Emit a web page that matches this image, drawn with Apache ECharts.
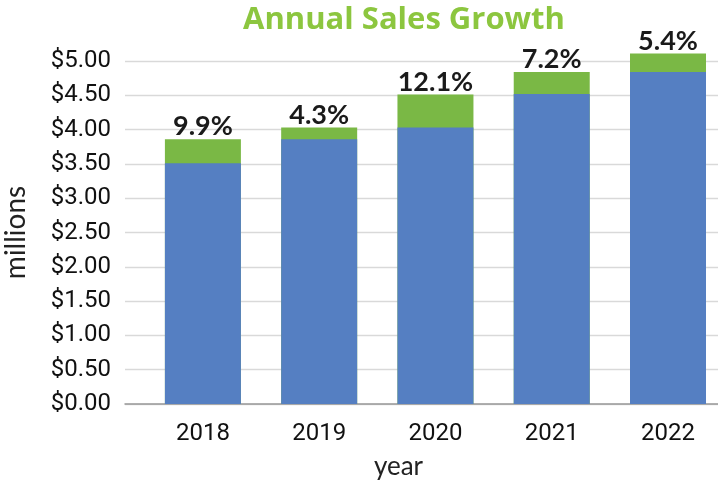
<!DOCTYPE html>
<html>
<head>
<meta charset="utf-8">
<script src="https://cdn.jsdelivr.net/npm/echarts@6/dist/echarts.min.js"></script>
<style>
  html, body { margin: 0; padding: 0; background: #fff; }
  #chart { width: 718px; height: 480px; }
</style>
</head>
<body>
<div id="chart"></div>
<script>
// chart data
const years = [2018, 2019, 2020, 2021, 2022]
const baseSales = [3.51, 3.86, 4.03, 4.52, 4.84]   // prior year sales (millions)
const growthAmount = [0.35, 0.17, 0.48, 0.32, 0.27] // added this year
const growthLabels = ['9.9%', '4.3%', '12.1%', '7.2%', '5.4%']
const yTicks = [0, 0.5, 1, 1.5, 2, 2.5, 3, 3.5, 4, 4.5, 5]

const chart = echarts.init(document.getElementById('chart'))

// green bar = base + growth, drawn behind the blue base bar
const totals = baseSales.map((b, i) => b + growthAmount[i])

chart.setOption({
  animation: false,
  title: {
    text: 'Annual Sales Growth',
    left: 399,
    top: 0,
    textAlign: 'center',
    textStyle: { color: '#8cc63f', fontFamily: 'Open Sans', fontWeight: 'bold', fontSize: 31 }
  },
  grid: { left: 125, right: 0, top: 61, bottom: 76, outerBoundsMode: 'none' },
  xAxis: {
    type: 'value',
    min: 2017.33,
    max: 2022.43,
    name: 'year',
    nameLocation: 'middle',
    nameGap: 50,
    nameTextStyle: { color: '#222', fontFamily: 'Lato', fontSize: 26, padding: [0, 46, 0, 0] },
    splitLine: { show: false },
    axisTick: { show: false },
    axisLine: { show: true, lineStyle: { color: '#999', width: 1.5 } },
    axisLabel: {
      customValues: years,
      formatter: v => String(v),
      color: '#111',
      fontFamily: 'Roboto',
      fontSize: 24,
      margin: 18
    }
  },
  yAxis: {
    type: 'value',
    min: yTicks[0],
    max: yTicks[yTicks.length - 1],
    interval: 0.5,
    name: 'millions',
    nameLocation: 'middle',
    nameGap: 95,
    nameTextStyle: { color: '#222', fontFamily: 'Lato', fontSize: 28 },
    axisLine: { show: false },
    axisTick: { show: false },
    splitLine: { lineStyle: { color: '#d9d9d9', width: 1.3 } },
    axisLabel: {
      formatter: v => '$' + v.toFixed(2),
      color: '#111',
      fontFamily: 'Roboto',
      fontSize: 24,
      margin: 14
    }
  },
  series: [
    {
      name: 'total',
      type: 'bar',
      clip: false,
      barWidth: 76,
      barGap: '-100%',
      itemStyle: { color: '#7ab845' },
      label: {
        show: true,
        position: 'top',
        distance: -1,
        formatter: p => growthLabels[p.dataIndex],
        color: '#1a1a1a',
        fontFamily: 'Lato',
        fontWeight: 'bold',
        fontSize: 27
      },
      data: years.map((y, i) => [y, totals[i]])
    },
    {
      name: 'base',
      type: 'bar',
      clip: false,
      barWidth: 76,
      barGap: '-100%',
      itemStyle: { color: '#557fc2' },
      data: years.map((y, i) => [y, baseSales[i]])
    }
  ]
})
</script>
</body>
</html>
